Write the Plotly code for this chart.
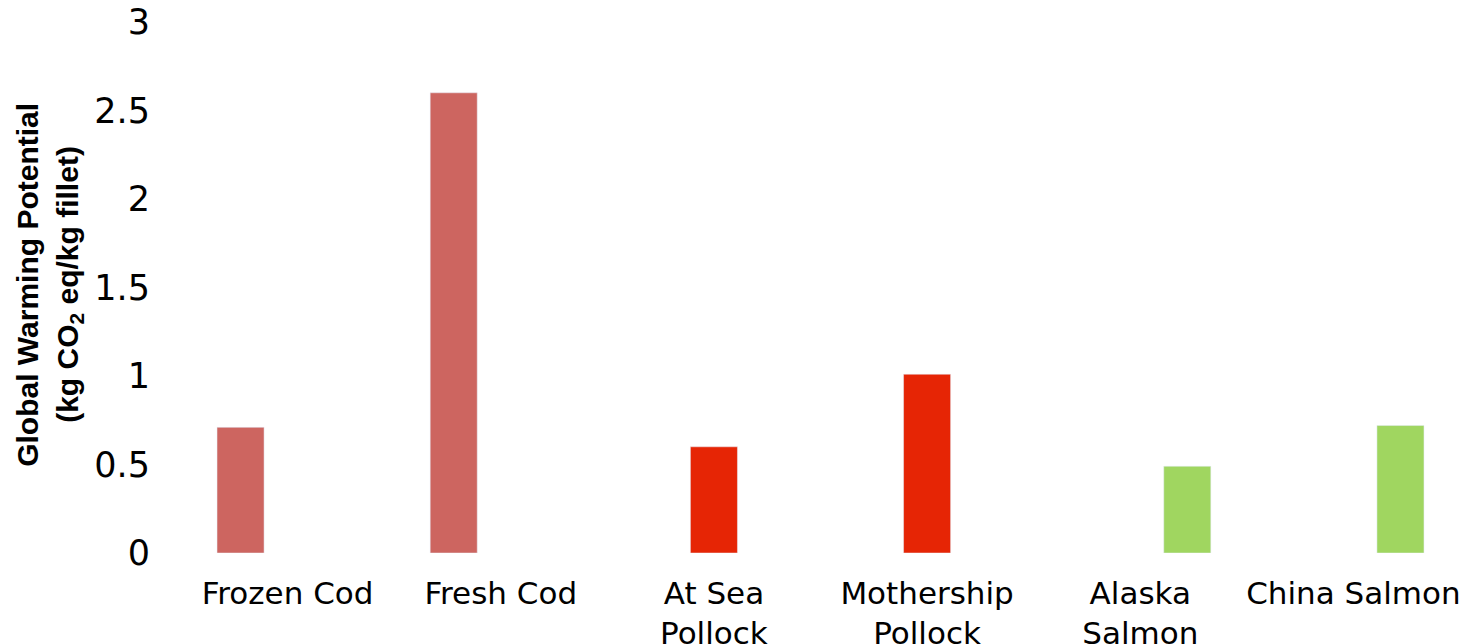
import plotly.graph_objects as go

categories = ["Frozen Cod", "Fresh Cod", "At Sea<br>Pollock", "Mothership<br>Pollock", "Alaska<br>Salmon", "China Salmon"]
cod_values = [0.71, 2.60, None, None, None, None]
pollock_values = [None, None, 0.60, 1.01, None, None]
salmon_values = [None, None, None, None, 0.49, 0.72]
y_ticks = [0, 0.5, 1, 1.5, 2, 2.5, 3]
y_tick_labels = ["0", "0.5", "1", "1.5", "2", "2.5", "3"]
title_lines = ["Global Warming Potential", "(kg CO<sub>2</sub> eq/kg fillet)"]

fig = go.Figure()
fig.add_trace(go.Bar(name="Cod", x=categories, y=cod_values, marker_color="#CD6560"))
fig.add_trace(go.Bar(name="Pollock", x=categories, y=pollock_values, marker_color="#E62505"))
fig.add_trace(go.Bar(name="Salmon", x=categories, y=salmon_values, marker_color="#A0D660"))

fig.update_layout(
    width=1464, height=644,
    margin=dict(l=181, r=4, t=22, b=91),
    barmode="group", bargap=0.338, bargroupgap=0,
    showlegend=False,
    plot_bgcolor="white", paper_bgcolor="white",
    font=dict(family="DejaVu Sans", color="black"),
)
fig.update_xaxes(
    showgrid=False, showline=False, zeroline=False, automargin=False,
    tickfont=dict(size=31, family="DejaVu Sans"),
    ticks="", ticklabelstandoff=19,
)
fig.update_yaxes(
    range=[0, 3], tickvals=y_ticks, ticktext=y_tick_labels,
    showgrid=False, showline=False, zeroline=False, automargin=False,
    tickfont=dict(size=35, family="DejaVu Sans"),
    ticks="", ticklabelstandoff=30,
)
for i, (line, xs) in enumerate(zip(title_lines, [-153, -111])):
    fig.add_annotation(
        text=line, textangle=-90, showarrow=False,
        xref="paper", yref="paper", x=0, y=0.505, xshift=xs,
        xanchor="center", yanchor="middle",
        font=dict(size=30, family="Liberation Sans", weight="bold", color="black"),
    )
fig.write_html("out.html")
